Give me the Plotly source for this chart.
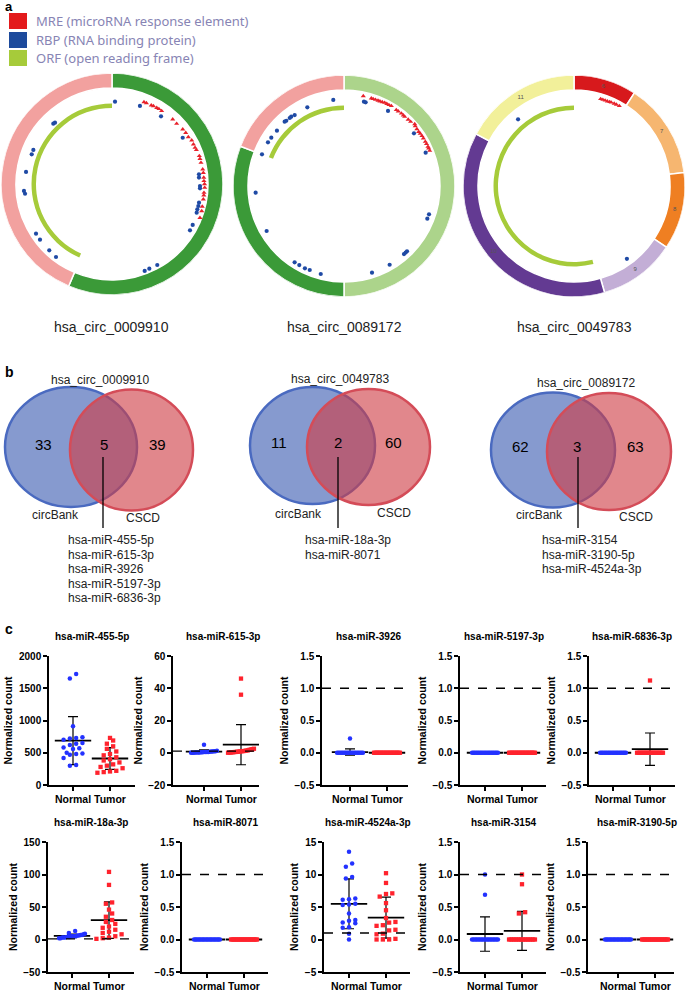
import numpy as np
import plotly.graph_objects as go

W, H = 686, 991
ARIAL = "Liberation Sans, Arial, sans-serif"
SEGOE = "Noto Sans, Open Sans, sans-serif"


def fx(x):
    return x / W


def fy(y):
    return 1 - y / H


# ------------------------------------------------------------------ panel a data
circ_ids = ["hsa_circ_0009910", "hsa_circ_0089172", "hsa_circ_0049783"]
feature_names = ["MRE (microRNA response element)", "RBP (RNA binding protein)", "ORF (open reading frame)"]
feature_colors = ["#e31a1c", "#1d4a9c", "#a6cb3a"]

# exon segments, clockwise from 12 o'clock (degrees of the circle)
c1_exon_span = [203, 157]
c1_exon_color = ["#3b9a38", "#f2a19f"]
c2_exon_span = [180, 111, 69]
c2_exon_color = ["#acd48b", "#3b9a38", "#f2a19f"]
c3_exon_span = [33, 50, 40.5, 40.5, 134, 62]
c3_exon_color = ["#d7191c", "#f6b670", "#ef7f22", "#c3aed6", "#633a92", "#f2f09a"]
c3_exon_label = ["6", "7", "8", "9", "10", "11"]

# ORF arcs (start, end) clockwise degrees
c1_orf = [204, 360]
c2_orf = [291, 360]
c3_orf = [166, 360]

# MRE sites (angle, radius)
c1_mre_theta = [21.3, 23, 26.5, 28, 30.4, 32, 34.2, 43.2, 47, 52.3, 55.2, 58.4, 61.3, 64, 66.4, 68,
                72.2, 74, 76.5, 80.8, 83, 86, 88.1, 90, 92.3, 95.4, 97, 99.5, 104, 106.8, 111]
c1_mre_r = [88, 88, 88, 88.3, 88.4, 88.5, 88.3, 88.7, 88.4, 89.4, 89.8, 89.6, 90.9, 90.6, 90.6, 91,
            91.7, 91.5, 91.5, 91.9, 92, 92, 92, 92.5, 92.8, 92.4, 92.5, 92.6, 93, 93.7, 94.2]
c1_rbp_theta = [2.1, 19.7, 35.9, 56.8, 83.6, 85.8, 91.3, 92.8, 102.1, 104.3, 106.5, 108.7, 116.9, 120.7,
                150.8, 156.2, 159.4, 317.1, 315.8, 293.4, 290.3, 278, 265.5, 263.6, 236.8, 232.3, 223.4, 217.5]
c1_rbp_r = [82.4, 82.9, 83.6, 84.5, 87.5, 87.2, 88, 88.1, 89, 89.1, 89, 89.4, 90.5, 90.7,
            92.8, 92.5, 92.9, 83.7, 84.2, 85.7, 85.6, 86.8, 88.3, 87.5, 90.8, 91, 91.3, 92]

c2_mre_theta = [12.1, 17.3, 18.5, 20, 21.7, 23, 24.5, 26, 27.5, 29, 30.6, 34.5, 36, 38.3, 40, 41.2, 44,
                46, 48.8, 50, 52, 54, 55.5, 57.3, 59, 61.4, 63, 64.9, 66, 67.6]
c2_mre_r = [92, 91.8, 91.8, 91.9, 91.9, 92, 92.2, 92.7, 92.7, 92.7, 93, 92.3, 92.3, 92.5, 92.3, 92.1, 92.4,
            92.6, 94, 93, 92.5, 92.3, 92.5, 92.6, 92.6, 92.6, 92.6, 92.7, 92.7, 92.7]
c2_rbp_theta = [352.9, 13.3, 14.5, 335, 325.2, 322.7, 321.4, 318.5, 317.3, 309.5, 303.6, 299.9, 291.1, 30.4,
                53, 67.8, 265.7, 239.8, 212.9, 209.5, 205.4, 202.2, 194.8, 162.1, 149.9, 138.6, 137.2, 136,
                111.4, 108.4]
c2_rbp_r = [86.7, 86.7, 86.4, 86.8, 86.4, 87.1, 87, 87.1, 87.5, 86.9, 87.3, 87.7, 87.9, 87,
            87.6, 88.2, 88.6, 89.5, 90.9, 90.8, 91.1, 90.7, 91, 91.1, 91, 90.7, 90.8, 90.7, 89.5, 89.6]

c3_mre_theta = [17, 18.5, 20, 21.5, 23, 24, 26, 27.5, 29.5]
c3_mre_r = [91, 91, 91, 91, 91.3, 91.5, 91.7, 91.8, 92]
c3_rbp_theta = [320, 144]
c3_rbp_r = [87, 90]

# ------------------------------------------------------------------ panel b data
venn_titles = ["hsa_circ_0009910", "hsa_circ_0049783", "hsa_circ_0089172"]
venn_circbank_only = [33, 11, 62]
venn_shared = [5, 2, 3]
venn_cscd_only = [39, 60, 63]
venn_shared_mirnas = [
    ["hsa-miR-455-5p", "hsa-miR-615-3p", "hsa-miR-3926", "hsa-miR-5197-3p", "hsa-miR-6836-3p"],
    ["hsa-miR-18a-3p", "hsa-miR-8071"],
    ["hsa-miR-3154", "hsa-miR-3190-5p", "hsa-miR-4524a-3p"],
]

# ------------------------------------------------------------------ panel c data
mirnas = ["hsa-miR-455-5p", "hsa-miR-615-3p", "hsa-miR-3926", "hsa-miR-5197-3p", "hsa-miR-6836-3p",
          "hsa-miR-18a-3p", "hsa-miR-8071", "hsa-miR-4524a-3p", "hsa-miR-3154", "hsa-miR-3190-5p"]
groups = ["Normal", "Tumor"]
ZERO20 = [0, 0, 0, 0, 0, 0, 0, 0, 0, 0, 0, 0, 0, 0, 0, 0, 0, 0, 0, 0]

normal_455 = [1720, 1650, 910, 740, 730, 720, 700, 650, 640, 620, 580, 570, 560, 500, 490, 480, 470, 420, 310, 300]
tumor_455 = [730, 690, 640, 600, 560, 520, 480, 460, 430, 400, 380, 350, 320, 300, 280, 260, 220, 210, 200, 190]
normal_615 = [5, 1.2, 1, 0.9, 0.8, 0.7, 0.6, 0.5, 0.5, 0.4, 0.4, 0.3, 0.3, 0.2, 0.2, 0.1, 0.1, 0, 0, 0]
tumor_615 = [46, 36, 2.5, 2.2, 2, 1.8, 1.5, 1.3, 1.2, 1, 1, 0.8, 0.7, 0.6, 0.5, 0.4, 0.3, 0.2, 0.1, 0]
normal_3926 = [0.22, 0, 0, 0, 0, 0, 0, 0, 0, 0, 0, 0, 0, 0, 0, 0, 0, 0, 0, 0]
tumor_3926 = ZERO20
normal_5197 = ZERO20
tumor_5197 = ZERO20
normal_6836 = ZERO20
tumor_6836 = [1.12, 0, 0, 0, 0, 0, 0, 0, 0, 0, 0, 0, 0, 0, 0, 0, 0, 0, 0, 0]
normal_18a = [13, 10, 9, 8, 7, 7, 6, 6, 5, 5, 5, 5, 4, 4, 4, 3, 3, 3, 2, 2]
tumor_18a = [104, 84, 57, 55, 46, 40, 35, 30, 27, 24, 20, 18, 15, 12, 10, 8, 5, 3, 2, 1]
normal_8071 = ZERO20
tumor_8071 = ZERO20
normal_4524 = [13.5, 11.7, 11.2, 9.6, 9.4, 6.3, 6.2, 6.1, 5.5, 5.4, 5.3, 4.0, 3.0, 2.9, 2.6, 2.5, 1.9, 1.8, 0.9, 0.0]
tumor_4524 = [10.2, 8.7, 7.1, 7.0, 6.6, 5.6, 4.5, 3.3, 2.7, 2.6, 2.2, 2.1, 1.5, 1.4, 0.9, 0.8, 0.1, 0.0, 0.0, 0.0]
normal_3154 = [1.0, 0.69, 0, 0, 0, 0, 0, 0, 0, 0, 0, 0, 0, 0, 0, 0, 0, 0, 0, 0]
tumor_3154 = [1.0, 0.85, 0.42, 0.40, 0, 0, 0, 0, 0, 0, 0, 0, 0, 0, 0, 0, 0, 0, 0, 0]
normal_3190 = ZERO20
tumor_3190 = ZERO20

normal_sets = [normal_455, normal_615, normal_3926, normal_5197, normal_6836,
               normal_18a, normal_8071, normal_4524, normal_3154, normal_3190]
tumor_sets = [tumor_455, tumor_615, tumor_3926, tumor_5197, tumor_6836,
              tumor_18a, tumor_8071, tumor_4524, tumor_3154, tumor_3190]
y_ranges = [[0, 2000], [-20, 60], [-0.5, 1.5], [-0.5, 1.5], [-0.5, 1.5],
            [-50, 150], [-0.5, 1.5], [-5, 15], [-0.5, 1.5], [-0.5, 1.5]]
y_dticks = [500, 20, 0.5, 0.5, 0.5, 50, 0.5, 5, 0.5, 0.5]
threshold_line = [None, 1, 1, 1, 1, 1, 1, 1, 1, 1]

# ------------------------------------------------------------------ layout constants
axis_x = [49, 173, 322, 460, 589, 48, 182, 324, 460, 588]
normal_off = [24, 31, 28, 25, 24, 24, 25, 25, 25, 30]
AXIS_W = 86
CAT_GAP = 37
row_top = [656, 842]
row_bot = [785, 972]
row_title = [636, 822]

fig = go.Figure()
shapes = []
annotations = []


def txt(x, y, s, size, color="black", bold=False, xanchor="center", family=ARIAL, yanchor="middle"):
    annotations.append(dict(x=fx(x), y=fy(y), xref="paper", yref="paper", text=s, showarrow=False,
                            xanchor=xanchor, yanchor=yanchor,
                            font=dict(size=size, color=color, family=family,
                                      weight="bold" if bold else "normal")))


# ------------------------------------------------------------------ panel a
circle_centers = [(112, 184), (344, 186), (574, 186)]
R_PX = 111
ring_sets = [(c1_exon_span, c1_exon_color), (c2_exon_span, c2_exon_color), (c3_exon_span, c3_exon_color)]
orf_sets = [c1_orf, c2_orf, c3_orf]
mre_sets = [(c1_mre_theta, c1_mre_r), (c2_mre_theta, c2_mre_r), (c3_mre_theta, c3_mre_r)]
rbp_sets = [(c1_rbp_theta, c1_rbp_r), (c2_rbp_theta, c2_rbp_r), (c3_rbp_theta, c3_rbp_r)]

for k in range(3):
    sub = "polar" if k == 0 else f"polar{k + 1}"
    span, cols = ring_sets[k]
    span = np.array(span, float)
    starts = np.concatenate([[0], np.cumsum(span)[:-1]])
    fig.add_trace(go.Barpolar(r=[15] * len(span), base=[96] * len(span), theta=starts + span / 2,
                              width=span, marker=dict(color=cols, line=dict(color="white", width=1.5)),
                              subplot=sub, hoverinfo="skip"))
    o0, o1 = orf_sets[k]
    fig.add_trace(go.Barpolar(r=[4.5], base=[76], theta=[(o0 + o1) / 2], width=[o1 - o0],
                              marker=dict(color=feature_colors[2], line=dict(width=0)),
                              subplot=sub, hoverinfo="skip"))
    th, rr = mre_sets[k]
    fig.add_trace(go.Scatterpolar(r=rr, theta=th, mode="markers", subplot=sub, hoverinfo="skip",
                                  marker=dict(symbol="triangle-up", size=4.5, color="#e8202a")))
    th, rr = rbp_sets[k]
    fig.add_trace(go.Scatterpolar(r=rr, theta=th, mode="markers", subplot=sub, hoverinfo="skip",
                                  marker=dict(symbol="circle", size=4.2, color="#1f4aa5")))
    if k == 2:
        fig.add_trace(go.Scatterpolar(r=[103.5] * len(span), theta=starts + span / 2, mode="text",
                                      text=c3_exon_label, subplot=sub, hoverinfo="skip",
                                      textfont=dict(size=6, color="#555555", family=ARIAL)))
    cx, cy = circle_centers[k]
    txt(cx, 327, circ_ids[k], 14, color="#222222")

polar_common = dict(bgcolor="white", hole=0, barmode="overlay",
                    radialaxis=dict(visible=False, range=[0, 111]),
                    angularaxis=dict(visible=False, direction="clockwise", rotation=90))
polar_layout = {}
for k, (cx, cy) in enumerate(circle_centers):
    key = "polar" if k == 0 else f"polar{k + 1}"
    d = dict(polar_common)
    d["domain"] = dict(x=[fx(cx - R_PX), fx(cx + R_PX)], y=[fy(cy + R_PX), fy(cy - R_PX)])
    polar_layout[key] = d

# legend of panel a
legend_rows = [(13, 29), (32, 48), (50, 66)]
for (y0, y1), name, col in zip(legend_rows, feature_names, feature_colors):
    shapes.append(dict(type="rect", xref="paper", yref="paper", x0=fx(9), x1=fx(27), y0=fy(y1), y1=fy(y0),
                       fillcolor=col, line=dict(width=0)))
    txt(34, (y0 + y1) / 2, name, 13, color="#8784b4", xanchor="left", family=SEGOE)
txt(3, 6, "a", 13, bold=True, xanchor="left")

# ------------------------------------------------------------------ panel b
venn_geo = [
    dict(blue=(71, 447, 66, 60), red=(131.5, 450, 61.5, 60.5), num_y=444, nums_x=(43, 104, 157),
         title=(100, 380), cb=(56, 515), cs=(143, 518), line_x=103, list_x=66),
    dict(blue=(312.5, 445.5, 62.5, 58.5), red=(368.5, 447, 61.5, 58), num_y=442, nums_x=(279, 338, 393),
         title=(340, 379), cb=(298, 514), cs=(394, 513), line_x=338, list_x=303),
    dict(blue=(553, 450, 62, 57.5), red=(609, 451.5, 62, 58.5), num_y=446, nums_x=(520, 577, 635),
         title=(586, 383), cb=(539, 515), cs=(636, 517), line_x=578, list_x=540),
]
for i, g in enumerate(venn_geo):
    for key, fill, edge in [("blue", "rgba(60,92,177,0.62)", "rgb(74,106,192)"),
                            ("red", "rgba(206,62,70,0.62)", "rgb(212,76,88)")]:
        cx, cy, rx, ry = g[key]
        shapes.append(dict(type="circle", xref="paper", yref="paper", x0=fx(cx - rx), x1=fx(cx + rx),
                           y0=fy(cy + ry), y1=fy(cy - ry), fillcolor=fill, line=dict(color=edge, width=2.5)))
    txt(g["nums_x"][0], g["num_y"], str(venn_circbank_only[i]), 15)
    txt(g["nums_x"][1], g["num_y"], str(venn_shared[i]), 15)
    txt(g["nums_x"][2], g["num_y"], str(venn_cscd_only[i]), 15)
    txt(g["title"][0], g["title"][1], venn_titles[i], 12, color="#222222")
    txt(g["cb"][0], g["cb"][1], "circBank", 12, color="#222222")
    txt(g["cs"][0], g["cs"][1], "CSCD", 12, color="#222222")
    shapes.append(dict(type="line", xref="paper", yref="paper", x0=fx(g["line_x"]), x1=fx(g["line_x"]),
                       y0=fy(457), y1=fy(528), line=dict(color="black", width=1.3)))
    for j, m in enumerate(venn_shared_mirnas[i]):
        txt(g["list_x"], 540 + 14.5 * j, m, 12, color="#222222", xanchor="left")
txt(3, 372, "b", 14, bold=True, xanchor="left")

# ------------------------------------------------------------------ panel c


def swarm(vals, span):
    vals = np.asarray(vals, float)
    order = np.argsort(vals, kind="stable")
    off = np.zeros(len(vals))
    thr = 0.035 * span
    grps, cur = [], [order[0]]
    for b in order[1:]:
        if vals[b] - vals[cur[0]] <= thr:
            cur.append(b)
        else:
            grps.append(cur)
            cur = [b]
    grps.append(cur)
    for gg in grps:
        n = len(gg)
        if n == 1:
            continue
        step = min(0.17, 0.7 / (n - 1))
        for kk, idx in enumerate(gg):
            off[idx] = (kk - (n - 1) / 2) * step
    return off


axes_layout = {}
for i in range(10):
    n = i + 1
    xs = "x" if n == 1 else f"x{n}"
    ys = "y" if n == 1 else f"y{n}"
    row = 0 if i < 5 else 1
    x0 = axis_x[i]
    a = -normal_off[i] / CAT_GAP
    b = a + AXIS_W / CAT_GAP
    ymin, ymax = y_ranges[i]
    span = ymax - ymin
    nv = np.array(normal_sets[i], float)
    tv = np.array(tumor_sets[i], float)
    means = [nv.mean(), tv.mean()]
    sds = [nv.std(ddof=1), tv.std(ddof=1)]

    # mean and SD
    fig.add_trace(go.Scatter(x=[0, 1], y=means, mode="markers", xaxis=xs, yaxis=ys, hoverinfo="skip",
                             marker=dict(symbol="line-ew", size=26, color="black",
                                         line=dict(width=1.8, color="black")),
                             error_y=dict(type="data", array=sds, visible=True, color="black",
                                          thickness=1.2, width=5)))
    fig.add_trace(go.Scatter(x=0 + swarm(nv, span), y=nv, mode="markers", xaxis=xs, yaxis=ys,
                             hoverinfo="skip",
                             marker=dict(symbol="circle", size=4.5, color="rgb(35,50,255)", line=dict(width=0))))
    fig.add_trace(go.Scatter(x=1 + swarm(tv, span), y=tv, mode="markers", xaxis=xs, yaxis=ys,
                             hoverinfo="skip",
                             marker=dict(symbol="square", size=4.3, color="rgb(255,35,45)", line=dict(width=0))))
    if threshold_line[i] is not None:
        shapes.append(dict(type="line", xref=f"{xs} domain", yref=ys, x0=0, x1=1,
                           y0=threshold_line[i], y1=threshold_line[i],
                           line=dict(color="black", width=1.3, dash="dash")))

    tick_fmt = "d" if y_dticks[i] >= 1 else ".1f"
    axes_layout["xaxis" if n == 1 else f"xaxis{n}"] = dict(
        domain=[fx(x0), fx(x0 + AXIS_W)], range=[a, b], anchor=ys,
        tickvals=[0, 1], ticktext=groups, tickangle=0, showline=True, linecolor="black", linewidth=1.5,
        ticks="outside", ticklen=4, tickwidth=1.5, tickcolor="black", showgrid=False, zeroline=False,
        tickfont=dict(family=ARIAL, size=10.5, color="black", weight="bold"), fixedrange=True,
        automargin=False)
    axes_layout["yaxis" if n == 1 else f"yaxis{n}"] = dict(
        domain=[fy(row_bot[row]), fy(row_top[row])], range=[ymin, ymax], anchor=xs,
        tick0=ymin, dtick=y_dticks[i], tickformat=tick_fmt, showline=True, linecolor="black",
        linewidth=1.5, ticks="outside", ticklen=4, tickwidth=1.5, tickcolor="black",
        showgrid=False, zeroline=False, fixedrange=True, automargin=False,
        tickfont=dict(family=ARIAL, size=10, color="black", weight="bold"),
        title=dict(text="Normalized count", standoff=4,
                   font=dict(family=ARIAL, size=10.5, color="black", weight="bold")))
    txt(x0 + normal_off[i] + CAT_GAP / 2, row_title[row], mirnas[i], 10, bold=True)

txt(3, 629, "c", 14, bold=True, xanchor="left")

fig.update_layout(width=W, height=H, margin=dict(l=0, r=0, t=0, b=0),
                  paper_bgcolor="white", plot_bgcolor="white", showlegend=False,
                  shapes=shapes, annotations=annotations, **polar_layout, **axes_layout)

fig.write_html("out.html", config={"displayModeBar": False},
               post_script="document.body.style.margin='0';document.body.style.padding='0';")
